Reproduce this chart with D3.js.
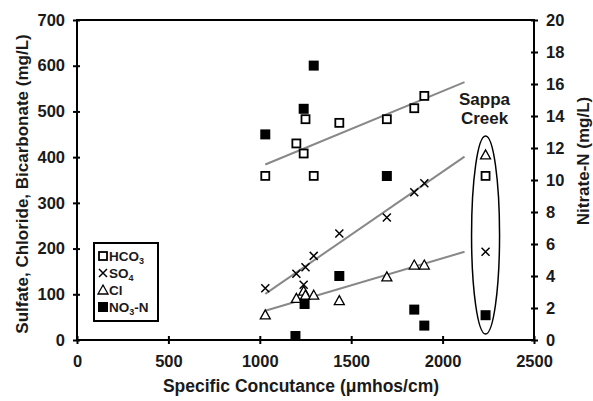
<!DOCTYPE html>
<html>
<head>
<meta charset="utf-8">
<script src="https://cdn.jsdelivr.net/npm/d3@7"></script>
<style>
	body { margin: 0; background: #fff; }
	svg { font-family: 'Liberation Sans', Arial, sans-serif; font-weight: bold; }
</style>
</head>
<body>
<div id="chart"></div>
<script>
// specific conductance of each sample (µmhos/cm)
const conductance = [1030, 1200, 1240, 1250, 1295, 1435, 1695, 1845, 1900]
const hco3 = [359, 430, 408, 483, 359, 475, 483, 507, 534]
const so4 = [113, 145, 121, 159, 184, 233, 268, 323, 343]
const cl = [55, 91, 107, 98, 98, 86, 138, 164, 164]
const no3Cond = [1030, 1195, 1245, 1240, 1295, 1435, 1695, 1845, 1900]
const no3 = [12.85, 0.25, 2.25, 14.45, 17.15, 4.0, 10.25, 1.9, 0.9]

// Sappa Creek sample
const sappaCond = 2235
const sappa = { hco3: 359, so4: 193, cl: 405, no3: 1.55 }

// fitted lines: [x0, y0, x1, y1]
const trendHco3 = [1030, 384, 2120, 564]
const trendSo4 = [1030, 101, 2120, 401]
const trendCl = [1030, 64, 2120, 193]

const xTicks = [0, 500, 1000, 1500, 2000, 2500]
const yTicks = [0, 100, 200, 300, 400, 500, 600, 700]
const y2Ticks = [0, 2, 4, 6, 8, 10, 12, 14, 16, 18, 20]

const width = 593
const height = 401
const margin = { top: 20, right: 59, bottom: 61, left: 77 }

const svg = d3.select('#chart').append('svg')
	.attr('width', width)
	.attr('height', height)

const x = d3.scaleLinear().domain([0, 2500]).range([margin.left, width - margin.right])
const y = d3.scaleLinear().domain([0, 700]).range([height - margin.bottom, margin.top])
const y2 = d3.scaleLinear().domain([0, 20]).range([height - margin.bottom, margin.top])

// frame
svg.append('rect')
	.attr('x', x(0)).attr('y', y(700))
	.attr('width', x(2500) - x(0)).attr('height', y(0) - y(700))
	.attr('fill', 'none').attr('stroke', '#000').attr('stroke-width', 2)

const tickStyle = g => {
	g.select('.domain').remove()
	g.selectAll('.tick line').attr('stroke', '#000').attr('stroke-width', 2)
	g.selectAll('.tick text').attr('fill', '#1a1a1a').style('font-size', '16.5px').style('font-weight', 'bold')
}

svg.append('g')
	.attr('transform', `translate(0,${y(0)})`)
	.call(d3.axisBottom(x).tickValues(xTicks).tickFormat(d3.format('d')).tickSize(4).tickPadding(11))
	.call(tickStyle)
	.call(g => g.selectAll('.tick line').attr('y1', -4))

svg.append('g')
	.attr('transform', `translate(${x(0)},0)`)
	.call(d3.axisLeft(y).tickValues(yTicks).tickFormat(d3.format('d')).tickSize(4).tickPadding(8))
	.call(tickStyle)
	.call(g => g.selectAll('.tick line').attr('x1', 3))

svg.append('g')
	.attr('transform', `translate(${x(2500)},0)`)
	.call(d3.axisRight(y2).tickValues(y2Ticks).tickFormat(d3.format('d')).tickSize(4).tickPadding(8))
	.call(tickStyle)
	.call(g => g.selectAll('.tick line').attr('x1', -3))

// axis titles
svg.append('text')
	.attr('x', 301).attr('y', 392)
	.attr('text-anchor', 'middle').style('font-size', '17.5px').attr('fill', '#1a1a1a')
	.text('Specific Concutance (μmhos/cm)')

svg.append('text')
	.attr('transform', `translate(28,184) rotate(-90)`)
	.attr('text-anchor', 'middle').style('font-size', '17px').attr('fill', '#1a1a1a')
	.text('Sulfate, Chloride, Bicarbonate (mg/L)')

svg.append('text')
	.attr('transform', `translate(589,161) rotate(-90)`)
	.attr('text-anchor', 'middle').style('font-size', '17px').attr('fill', '#1a1a1a')
	.text('Nitrate-N (mg/L)')

// trend lines
const trendG = svg.append('g')
	.attr('stroke', '#888').attr('stroke-width', 2)
for (const t of [trendHco3, trendSo4, trendCl]) {
	trendG.append('line')
		.attr('x1', x(t[0])).attr('y1', y(t[1]))
		.attr('x2', x(t[2])).attr('y2', y(t[3]))
}

// marker shapes
const openSquare = (g, cx, cy) => g.append('rect')
	.attr('x', cx - 4).attr('y', cy - 4).attr('width', 8).attr('height', 8)
	.attr('fill', '#fff').attr('stroke', '#000').attr('stroke-width', 1.8)
const filledSquare = (g, cx, cy) => g.append('rect')
	.attr('x', cx - 5).attr('y', cy - 5).attr('width', 10).attr('height', 10)
	.attr('fill', '#000')
const cross = (g, cx, cy) => g.append('path')
	.attr('d', `M${cx - 4},${cy - 4}L${cx + 4},${cy + 4}M${cx - 4},${cy + 4}L${cx + 4},${cy - 4}`)
	.attr('stroke', '#000').attr('stroke-width', 1.5).attr('fill', 'none')
const triangle = (g, cx, cy) => g.append('path')
	.attr('d', `M${cx},${cy - 5}L${cx + 5},${cy + 4}L${cx - 5},${cy + 4}Z`)
	.attr('fill', '#fff').attr('stroke', '#000').attr('stroke-width', 1.3)

const pts = svg.append('g')
conductance.forEach((c, i) => triangle(pts, x(c), y(cl[i])))
conductance.forEach((c, i) => cross(pts, x(c), y(so4[i])))
conductance.forEach((c, i) => openSquare(pts, x(c), y(hco3[i])))
no3Cond.forEach((c, i) => filledSquare(pts, x(c), y2(no3[i])))

// Sappa Creek
triangle(pts, x(sappaCond), y(sappa.cl))
openSquare(pts, x(sappaCond), y(sappa.hco3))
cross(pts, x(sappaCond), y(sappa.so4))
filledSquare(pts, x(sappaCond), y2(sappa.no3))

svg.append('ellipse')
	.attr('cx', x(sappaCond)).attr('cy', 235)
	.attr('rx', 14).attr('ry', 99)
	.attr('fill', 'none').attr('stroke', '#000').attr('stroke-width', 1.5)

svg.append('text')
	.attr('text-anchor', 'middle')
	.style('font-size', '17px').attr('fill', '#1a1a1a')
	.call(t => t.append('tspan').attr('x', x(sappaCond) - 1).attr('y', 105).text('Sappa'))
	.call(t => t.append('tspan').attr('x', x(sappaCond) - 1).attr('y', 124).text('Creek'))

// legend
const legend = svg.append('g')
legend.append('rect')
	.attr('x', 94).attr('y', 243).attr('width', 64).attr('height', 78)
	.attr('fill', '#fff').attr('stroke', '#000').attr('stroke-width', 2)
const legendItems = [
	{ draw: openSquare, label: 'HCO', sub: '3', y: 256 },
	{ draw: cross, label: 'SO', sub: '4', y: 273 },
	{ draw: triangle, label: 'Cl', sub: '', y: 290 },
	{ draw: filledSquare, label: 'NO', sub: '3', tail: '-N', y: 307 }
]
legendItems.forEach(d => {
	d.draw(legend, 103, d.y)
	legend.append('text')
		.attr('x', 109).attr('y', d.y + 5)
		.style('font-size', '13.5px').attr('fill', '#1a1a1a')
		.call(t => t.append('tspan').text(d.label))
		.call(t => d.sub && t.append('tspan').attr('dy', 3).style('font-size', '9px').text(d.sub))
		.call(t => d.tail && t.append('tspan').attr('dy', -3).text(d.tail))
})
</script>
</body>
</html>
